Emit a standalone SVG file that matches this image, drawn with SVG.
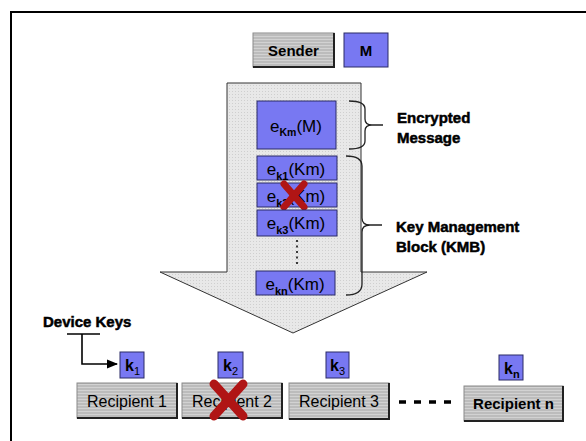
<svg xmlns="http://www.w3.org/2000/svg" width="586" height="441" viewBox="0 0 586 441">
  <defs>
    <!-- striped grey fill used by the sender / recipient boxes -->
    <pattern id="stripes" width="4" height="3" patternUnits="userSpaceOnUse">
      <rect width="4" height="3" fill="#bcbcbc"/>
      <rect width="4" height="1" fill="#d2d2d2"/>
    </pattern>
    <!-- speckled light fill of the big arrow -->
    <pattern id="speckle" width="3" height="3" patternUnits="userSpaceOnUse">
      <rect width="3" height="3" fill="#e8e8e8"/>
      <rect x="1" y="1" width="1" height="1" fill="#cfcfcf"/>
    </pattern>
    <marker id="arrowhead" viewBox="0 0 10 10" refX="9" refY="5" markerWidth="7" markerHeight="7" orient="auto">
      <path d="M0,1 L10,5 L0,9 Z" fill="#000"/>
    </marker>
  </defs>
  <style>
    .frame { fill: none; stroke: #000; stroke-width: 2; }
    .gbox { fill: url(#stripes); stroke: #8a8a8a; stroke-width: 1; }
    .bbox { fill: #7878f2; stroke: #2a2a66; stroke-width: 1; }
    .shade { fill: none; stroke: #222; stroke-width: 2; }
    .label { font-family: "Liberation Sans", Arial, sans-serif; fill: #000; }
    .bold { font-weight: bold; }
    .note { font-family: "Liberation Sans", Arial, sans-serif; font-weight: bold; font-size: 15px; fill: #000; stroke: #000; stroke-width: 0.5px; }
    .brace { fill: none; stroke: #222; stroke-width: 1.3; }
    .cross { stroke: #b01515; stroke-linecap: round; }
    .conn { fill: none; stroke: #000; stroke-width: 1.6; }
  </style>

  <rect class="frame" x="11" y="12" width="600" height="500"/>

  <!-- big downward arrow carrying the message -->
  <g id="transport-arrow">
    <path d="M227,83 L361,83 L361,272 L427,272 L293,333 L160,272 L227,272 Z" fill="url(#speckle)" stroke="#333" stroke-width="1"/>
  </g>

  <g id="sender">
    <rect class="gbox" x="253" y="33" width="81" height="34"/>
    <path class="shade" d="M253,67 H334 V33"/>
    <text class="label bold" x="293.5" y="56" font-size="15" text-anchor="middle">Sender</text>
  </g>

  <g id="message">
    <rect class="bbox" x="344" y="33" width="44" height="34"/>
    <text class="label bold" x="366" y="56" font-size="15" text-anchor="middle">M</text>
  </g>

  <g id="enc-message">
    <rect class="bbox" x="257" y="101" width="79" height="48"/>
    <text class="label" x="296" y="132" font-size="17" text-anchor="middle">e<tspan font-size="10.5" font-weight="bold" dy="4">Km</tspan><tspan dy="-4">(M)</tspan></text>
  </g>

  <g id="enc-k1">
    <rect class="bbox" x="257" y="156" width="80" height="24"/>
    <text class="label" x="296" y="175" font-size="17" text-anchor="middle">e<tspan font-size="11" font-weight="bold" dy="5">k1</tspan><tspan dy="-5">(Km)</tspan></text>
  </g>

  <g id="enc-k2">
    <rect class="bbox" x="257" y="183" width="80" height="24"/>
    <text class="label" x="296" y="202" font-size="17" text-anchor="middle">e<tspan font-size="11" font-weight="bold" dy="5">k2</tspan><tspan dy="-5">(Km)</tspan></text>
    <path class="cross" stroke-width="7" d="M284,184 L304,207 M304,184 L284,207"/>
  </g>

  <g id="enc-k3">
    <rect class="bbox" x="257" y="210" width="80" height="26"/>
    <text class="label" x="296" y="229" font-size="17" text-anchor="middle">e<tspan font-size="11" font-weight="bold" dy="5">k3</tspan><tspan dy="-5">(Km)</tspan></text>
  </g>

  <g id="enc-more">
    <line x1="297" y1="240" x2="297" y2="264" stroke="#000" stroke-width="1.5" stroke-dasharray="2,3.5"/>
  </g>

  <g id="enc-kn">
    <rect class="bbox" x="256" y="271" width="79" height="24"/>
    <text class="label" x="295" y="290" font-size="17" text-anchor="middle">e<tspan font-size="11" font-weight="bold" dy="5">kn</tspan><tspan dy="-5">(Km)</tspan></text>
  </g>

  <!-- braces and their captions -->
  <g id="label-encrypted">
    <path class="brace" d="M349,101 Q365,101 365,109 V119 Q365,125 372,125 Q365,125 365,131 V141 Q365,149 349,149 M372,125 H383"/>
    <text class="note" x="397" y="123">Encrypted</text>
    <text class="note" x="397" y="143">Message</text>
  </g>

  <g id="label-kmb">
    <path class="brace" d="M346,156 Q362,156 362,166 V218 Q362,225 370,225 Q362,225 362,232 V284 Q362,295 346,295 M370,225 H382"/>
    <text class="note" x="396" y="232">Key Management</text>
    <text class="note" x="396" y="252">Block (KMB)</text>
  </g>

  <g id="device-keys">
    <text class="note" x="43" y="327">Device Keys</text>
  </g>

  <g id="connectors">
    <path class="conn" d="M67,334 H100"/>
    <path class="conn" d="M82,334 V364 H117" marker-end="url(#arrowhead)"/>
    <path d="M399,402 H452" stroke="#000" stroke-width="3.5" stroke-dasharray="7,8"/>
  </g>

  <!-- device keys -->
  <g id="key-1">
    <rect class="bbox" x="120" y="352" width="24" height="26"/>
    <text class="label bold" x="125" y="371" font-size="16">k<tspan font-size="11" font-weight="normal" dy="4">1</tspan></text>
  </g>
  <g id="key-2">
    <rect class="bbox" x="218" y="352" width="25" height="26"/>
    <text class="label bold" x="223" y="371" font-size="16">k<tspan font-size="11" font-weight="normal" dy="4">2</tspan></text>
  </g>
  <g id="key-3">
    <rect class="bbox" x="326" y="352" width="23" height="26"/>
    <text class="label bold" x="330" y="371" font-size="16">k<tspan font-size="11" font-weight="normal" dy="4">3</tspan></text>
  </g>
  <g id="key-n">
    <rect class="bbox" x="499" y="355" width="24" height="25"/>
    <text class="label bold" x="504" y="374" font-size="16">k<tspan font-size="11" dy="4">n</tspan></text>
  </g>

  <!-- recipients -->
  <g id="recipient-1">
    <rect class="gbox" x="77" y="383" width="100" height="35"/>
    <path class="shade" d="M77,418 H177 V383"/>
    <text class="label" x="127" y="407" font-size="16" text-anchor="middle">Recipient 1</text>
  </g>
  <g id="recipient-2">
    <rect class="gbox" x="182" y="383" width="100" height="35"/>
    <path class="shade" d="M182,418 H282 V383"/>
    <text class="label" x="232" y="407" font-size="16" text-anchor="middle">Recipient 2</text>
    <path class="cross" stroke-width="9" d="M214,384 L243,416 M243,384 L214,416"/>
  </g>
  <g id="recipient-3">
    <rect class="gbox" x="289" y="383" width="100" height="36"/>
    <path class="shade" d="M289,419 H389 V383"/>
    <text class="label" x="339" y="407" font-size="16" text-anchor="middle">Recipient 3</text>
  </g>
  <g id="recipient-n">
    <rect class="gbox" x="464" y="386" width="99" height="35"/>
    <path class="shade" d="M464,421 H563 V386"/>
    <text class="label bold" x="513.5" y="409" font-size="15" text-anchor="middle">Recipient n</text>
  </g>
</svg>
